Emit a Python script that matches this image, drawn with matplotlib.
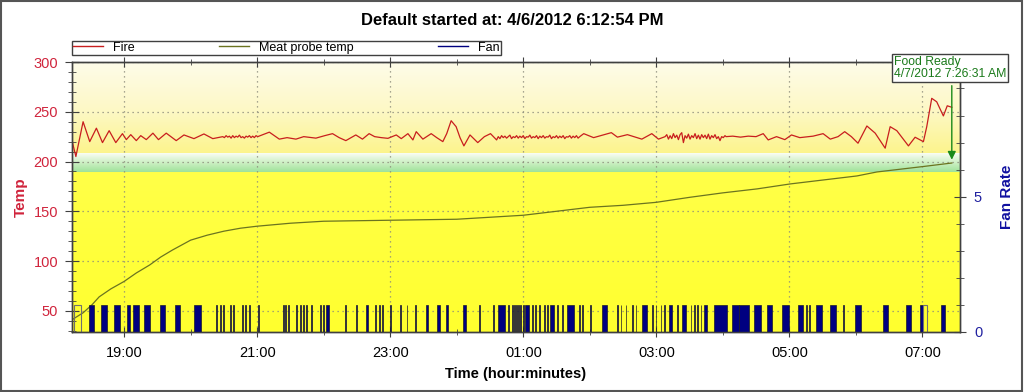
import matplotlib
matplotlib.use('Agg')
import matplotlib.pyplot as plt
import numpy as np
from matplotlib.colors import LinearSegmentedColormap
from matplotlib.lines import Line2D
from matplotlib.patches import Rectangle
from matplotlib.ticker import MultipleLocator, FixedLocator, FuncFormatter

plt.rcParams['font.family'] = ['Liberation Sans', 'DejaVu Sans']

# log started 4/6/2012 6:12:54 PM, times below are minutes from start
start_h = 18 + 12 / 60 + 54 / 3600
ready_min = 793.6   # 4/7/2012 7:26:31 AM
ready_temp = 199
band_lo, band_hi = 189, 208

fire = [
    (0, 221), (3.5, 205), (10, 240), (16, 220), (22, 233.5), (27.5, 219), (33.5, 231),
    (39.5, 219), (45.5, 228), (49, 222), (53, 227), (58, 221), (62, 226), (67, 222),
    (73, 228.5), (78, 222), (85, 228.5), (94, 221), (101, 226.7), (110, 223), (119, 227.7),
    (127, 223), (136, 225),
    (137.5, 224), (139, 226), (140.5, 224.5), (142, 225.5), (143.5, 223.5), (145, 226),
    (146.5, 224), (148, 225.5), (149.5, 224.5), (151, 226.5), (152.5, 224), (154, 225),
    (155.5, 223.5), (157, 225.5), (158.5, 224.5), (160, 226), (161.5, 224), (163, 225.5),
    (164.5, 224), (166, 226), (167.5, 225),
    (178, 229.5), (187, 222.5), (194, 224), (202, 222.5), (209, 225), (220, 223.5),
    (228, 226), (235, 228), (241, 224), (247, 221), (256, 226.7), (262, 222.5), (268, 228),
    (273, 225), (279, 224), (285, 223.3), (292.5, 226.7), (297, 223), (303, 228),
    (307.5, 221.7), (310.5, 230), (316.5, 222.5), (324, 228), (329, 224), (334.5, 220),
    (338, 228), (342, 241), (346.5, 235), (350, 224), (353.5, 215.7), (359, 226.7),
    (366, 219), (372, 225), (377.5, 228), (383, 221.7),
    (384.5, 225), (386, 223), (387.5, 226), (389, 224), (390.5, 225.5), (392, 223.5),
    (393.5, 225), (395, 226.5), (396.5, 223), (398, 225), (399.5, 224), (401, 226),
    (402.5, 223.5), (404, 225.5), (405.5, 224), (407, 226), (408.5, 223), (410, 225),
    (411.5, 224.5), (413, 226.5), (414.5, 223.5), (416, 225), (417.5, 224), (419, 226),
    (420.5, 223), (422, 225.5), (423.5, 224), (425, 226), (426.5, 223.5), (428, 225),
    (429.5, 224.5), (431, 226.5), (432.5, 223), (434, 225), (435.5, 224), (437, 226),
    (438.5, 223.5), (440, 225.5), (441.5, 224), (443, 226), (444.5, 223), (446, 225),
    (447.5, 224.5), (449, 226), (450.5, 223.5), (452, 225.5), (453.5, 224), (455, 226),
    (456.5, 223.5), (458, 225),
    (461.6, 228), (470.5, 224), (486.5, 229), (492, 224.5), (501, 227), (514, 222.5),
    (523, 228), (529, 222.5), (535, 225),
    (536.5, 227), (538, 222.5), (539.5, 226), (541, 223), (542.5, 228), (544, 224),
    (545.5, 226.5), (547, 222), (548.5, 227), (550, 229), (551.5, 219), (553, 226),
    (554.5, 223.5), (556, 227.5), (557.5, 222.5), (559, 226), (560.5, 224), (562, 228),
    (563.5, 223), (565, 226.5), (566.5, 222.5), (568, 227), (569.5, 224), (571, 226.5),
    (572.5, 223), (574, 227.5), (575.5, 222.5), (577, 226), (578.5, 224), (580, 227),
    (581.5, 223), (583, 225), (584.5, 221), (586, 225), (587.5, 224), (589, 226),
    (590, 225), (596, 225.5), (603, 224.5), (610, 225.5), (617, 225),
    (623.5, 228), (628, 221.7), (635.5, 225), (643, 222), (649, 226.7), (656.5, 224),
    (668.5, 225.5), (677.5, 228), (684, 222.5), (691, 225), (697, 230), (703, 225),
    (709, 218.4), (717, 235.7), (724.5, 228.5), (733.5, 213.4), (738, 235), (744, 231),
    (754.5, 215.7), (760.5, 224.4), (768, 220), (771, 235), (775.5, 263.5), (780, 260),
    (786, 245.8), (789.5, 256), (793.6, 254.5),
]

meat = [
    (0, 41), (10, 48), (18, 56), (24.5, 64), (35, 72), (47, 79.5), (58, 88), (70, 96),
    (80, 104), (90.5, 111), (107, 121), (122, 126), (137, 130), (152, 133), (167, 135),
    (197, 138), (227, 140), (257, 140.5), (287, 141), (317, 141.5), (347, 142), (377, 144),
    (407, 146), (437, 150), (467, 154), (497, 156), (527, 159), (557, 164), (587, 168.5),
    (618, 172.5), (648, 177.5), (678, 181.5), (708, 185.5), (726, 189.5), (768, 195),
    (793.6, 198.5),
]

# fan on periods (start, end) in minutes
fan_on = [
    (15.5, 20.0), (26.6, 31.2), (38.1, 43.3), (49.2, 52.3), (55.3, 60.0), (65.2, 70.6),
    (79.4, 83.9), (93.2, 97.4), (110.3, 116.4),
    (129.9, 130.7), (133.6, 134.4), (135.9, 136.7), (142.9, 143.7), (144.9, 145.7),
    (153.4, 154.2), (156.4, 157.2), (159.4, 160.2), (167.5, 168.3), (190.1, 190.9),
    (192.5, 193.3), (194.6, 195.4), (202.5, 203.3), (205.4, 206.2), (208.5, 209.3),
    (211.5, 212.3), (215.4, 216.4), (223.5, 224.3), (226.6, 227.4), (229.5, 231.6),
    (246.1, 246.9), (256.6, 257.4), (264.8, 267.2), (273.6, 274.4), (276.8, 277.6),
    (279.8, 280.6), (286.7, 287.5), (295.7, 296.5), (301.8, 302.6), (309.3, 310.1),
    (319.2, 321.4), (328.9, 331.9), (337.0, 339.4), (353.0, 355.1), (367.4, 368.2),
    (380.1, 380.9), (384.6, 390.6), (393.6, 394.4), (396.6, 397.4), (399.0, 399.8),
    (400.5, 401.3), (402.5, 403.3), (404.5, 405.3), (406.5, 407.3), (409.0, 412.0),
    (414.9, 415.7), (418.0, 418.8), (421.0, 421.8), (425.6, 426.4), (428.5, 429.3),
    (431.5, 434.5), (437.5, 438.3), (442.0, 442.8), (446.5, 452.6), (457.1, 457.9),
    (460.1, 460.9), (467.7, 468.5), (478.1, 482.7), (491.7, 492.5), (494.8, 495.6),
    (499.3, 500.1), (505.2, 506.0), (508.3, 509.1), (514.3, 518.8), (523.3, 524.1),
    (526.4, 527.2), (530.9, 531.7), (533.9, 534.7), (538.4, 541.4), (545.9, 546.7),
    (550.4, 553.4), (558.0, 558.8), (561.0, 561.8), (564.0, 564.8), (567.0, 567.8),
    (570.0, 573.0), (579.0, 591.0), (595.5, 601.6), (601.8, 610.9), (615.4, 621.5),
    (626.6, 631.4), (640.4, 647.0), (654.6, 659.1), (662.1, 662.9), (664.5, 665.3),
    (671.1, 676.5), (684.0, 689.2), (695.8, 696.6), (706.6, 711.8), (731.3, 735.9),
    (752.4, 756.9), (765.3, 768.0), (784.0, 787.9),
]
fan_hollow = [(2.0, 8.0), (768.0, 771.1)]
fan_level = 1

fire_m, fire_t = zip(*fire)
meat_m, meat_t = zip(*meat)
fire_h = start_h + np.array(fire_m) / 60
meat_h = start_h + np.array(meat_m) / 60
ready_h = start_h + ready_min / 60

x0 = start_h
x1 = start_h + 801 / 60
ylo, yhi = 29, 300

fig = plt.figure(figsize=(10.24, 3.92), dpi=100)
ax = fig.add_axes([72 / 1024, 1 - 331.7 / 392, 888 / 1024, 269.7 / 392])
ax2 = ax.twinx()

# background gradients
bg = LinearSegmentedColormap.from_list('bg', [
    (0, '#ffff2e'), ((band_lo - ylo) / (yhi - ylo), '#ffff48'),
    ((band_hi + 2 - ylo) / (yhi - ylo), '#fcf48e'),
    ((250 - ylo) / (yhi - ylo), '#fdf8c4'), (1, '#fefce9')])
grad = np.linspace(0, 1, 256).reshape(-1, 1)
ax.imshow(grad, aspect='auto', cmap=bg, origin='lower',
          extent=[x0, x1, ylo, yhi], zorder=0, interpolation='bilinear')
bandc = LinearSegmentedColormap.from_list('band', ['#9ee29a', '#cdf0c4', '#fafdf4'])
ax.imshow(grad, aspect='auto', cmap=bandc, origin='lower',
          extent=[x0, x1, band_lo, band_hi], zorder=1, interpolation='bilinear')

ax.plot(fire_h, fire_t, color='#c81e1e', lw=0.9, zorder=3)
ax.plot(meat_h, meat_t, color='#6b7420', lw=0.9, zorder=3)

for s, e in fan_on:
    ax2.bar(start_h + s / 60, fan_level, width=(e - s) / 60, bottom=0, align='edge',
            color='#000080', edgecolor='#1a1a2a', lw=0.5, zorder=2)
for s, e in fan_hollow:
    ax2.bar(start_h + s / 60, fan_level, width=(e - s) / 60, bottom=0, align='edge',
            facecolor='none', edgecolor='#707070', lw=0.8, zorder=2)

ax.set_xlim(x0, x1)
ax.set_ylim(ylo, yhi)
ax2.set_ylim(0, 9.98)

ax.xaxis.set_major_locator(FixedLocator([19, 21, 23, 25, 27, 29, 31]))
ax.xaxis.set_minor_locator(FixedLocator(list(range(19, 32))))
ax.xaxis.set_major_formatter(FuncFormatter(lambda h, p: '%02d:00' % (int(round(h)) % 24)))
ax.yaxis.set_major_locator(MultipleLocator(50))
ax.yaxis.set_minor_locator(MultipleLocator(10))
ax2.yaxis.set_major_locator(FixedLocator([0, 5]))
ax2.yaxis.set_minor_locator(MultipleLocator(1))

ax.grid(True, which='major', color='#8a8a7a', ls=(0, (1, 3)), lw=0.9, zorder=2)
ax.set_axisbelow(False)

ax.tick_params(axis='x', which='both', top=True, direction='inout', labelsize=10.5,
               pad=7, color='#404040')
ax.tick_params(axis='x', which='major', length=7)
ax.tick_params(axis='x', which='minor', length=5)
ax.tick_params(axis='y', which='both', direction='inout', labelsize=10.5,
               labelcolor='#d0243c', color='#404040', pad=5)
ax.tick_params(axis='y', which='major', length=10)
ax.tick_params(axis='y', which='minor', length=6)
ax2.tick_params(axis='y', which='both', direction='inout', labelsize=10.5,
                labelcolor='#2020a0', color='#404040', pad=6)
ax2.tick_params(axis='y', which='major', length=8)
ax2.tick_params(axis='y', which='minor', length=6)

for a in (ax, ax2):
    for sp in a.spines.values():
        sp.set_color('#404040')
        sp.set_linewidth(1)

ax.set_xlabel('Time (hour:minutes)', fontsize=10.5, weight='bold', labelpad=5)
ax.set_ylabel('Temp', fontsize=11, weight='bold', color='#d0243c', labelpad=4)
ax2.set_ylabel('Fan Rate', fontsize=11, weight='bold', color='#1010a0', labelpad=13)

fig.text(0.5, 1 - 20.5 / 392, 'Default started at: 4/6/2012 6:12:54 PM',
         ha='center', va='center', fontsize=12, weight='bold')

handles = [Line2D([], [], color='#c81e1e', lw=1),
           Line2D([], [], color='#6b7420', lw=1),
           Line2D([], [], color='#000080', lw=1)]
leg = fig.legend(handles, ['Fire', 'Meat probe temp', 'Fan'], loc='lower left',
                 bbox_to_anchor=(72 / 1024, 1 - 55 / 392, 429 / 1024, 16 / 392),
                 ncol=3, mode='expand', fancybox=False, edgecolor='#404040',
                 fontsize=9, handlelength=2.4, borderpad=0.1, borderaxespad=0,
                 handletextpad=0.8, framealpha=1)
leg.get_frame().set_linewidth(1)

# food ready marker
ax.annotate('', xy=(ready_h, ready_temp), xytext=(ready_h, 279),
            arrowprops=dict(arrowstyle='-|>', color='#1a8a1a', lw=1, mutation_scale=12),
            annotation_clip=False, zorder=5)
fig.text(894 / 1024, 1 - 68 / 392, 'Food Ready\n4/7/2012 7:26:31 AM', ha='left', va='center',
         fontsize=8.8, color='#1a7a1a', linespacing=1.1,
         bbox=dict(boxstyle='square,pad=0.15', fc='white', ec='#404040', lw=1))

fig.patches.append(Rectangle((0.001, 0.002), 0.997, 0.996, transform=fig.transFigure,
                             fill=False, ec='#555555', lw=1.5))

fig.savefig('out.png', dpi=100)
